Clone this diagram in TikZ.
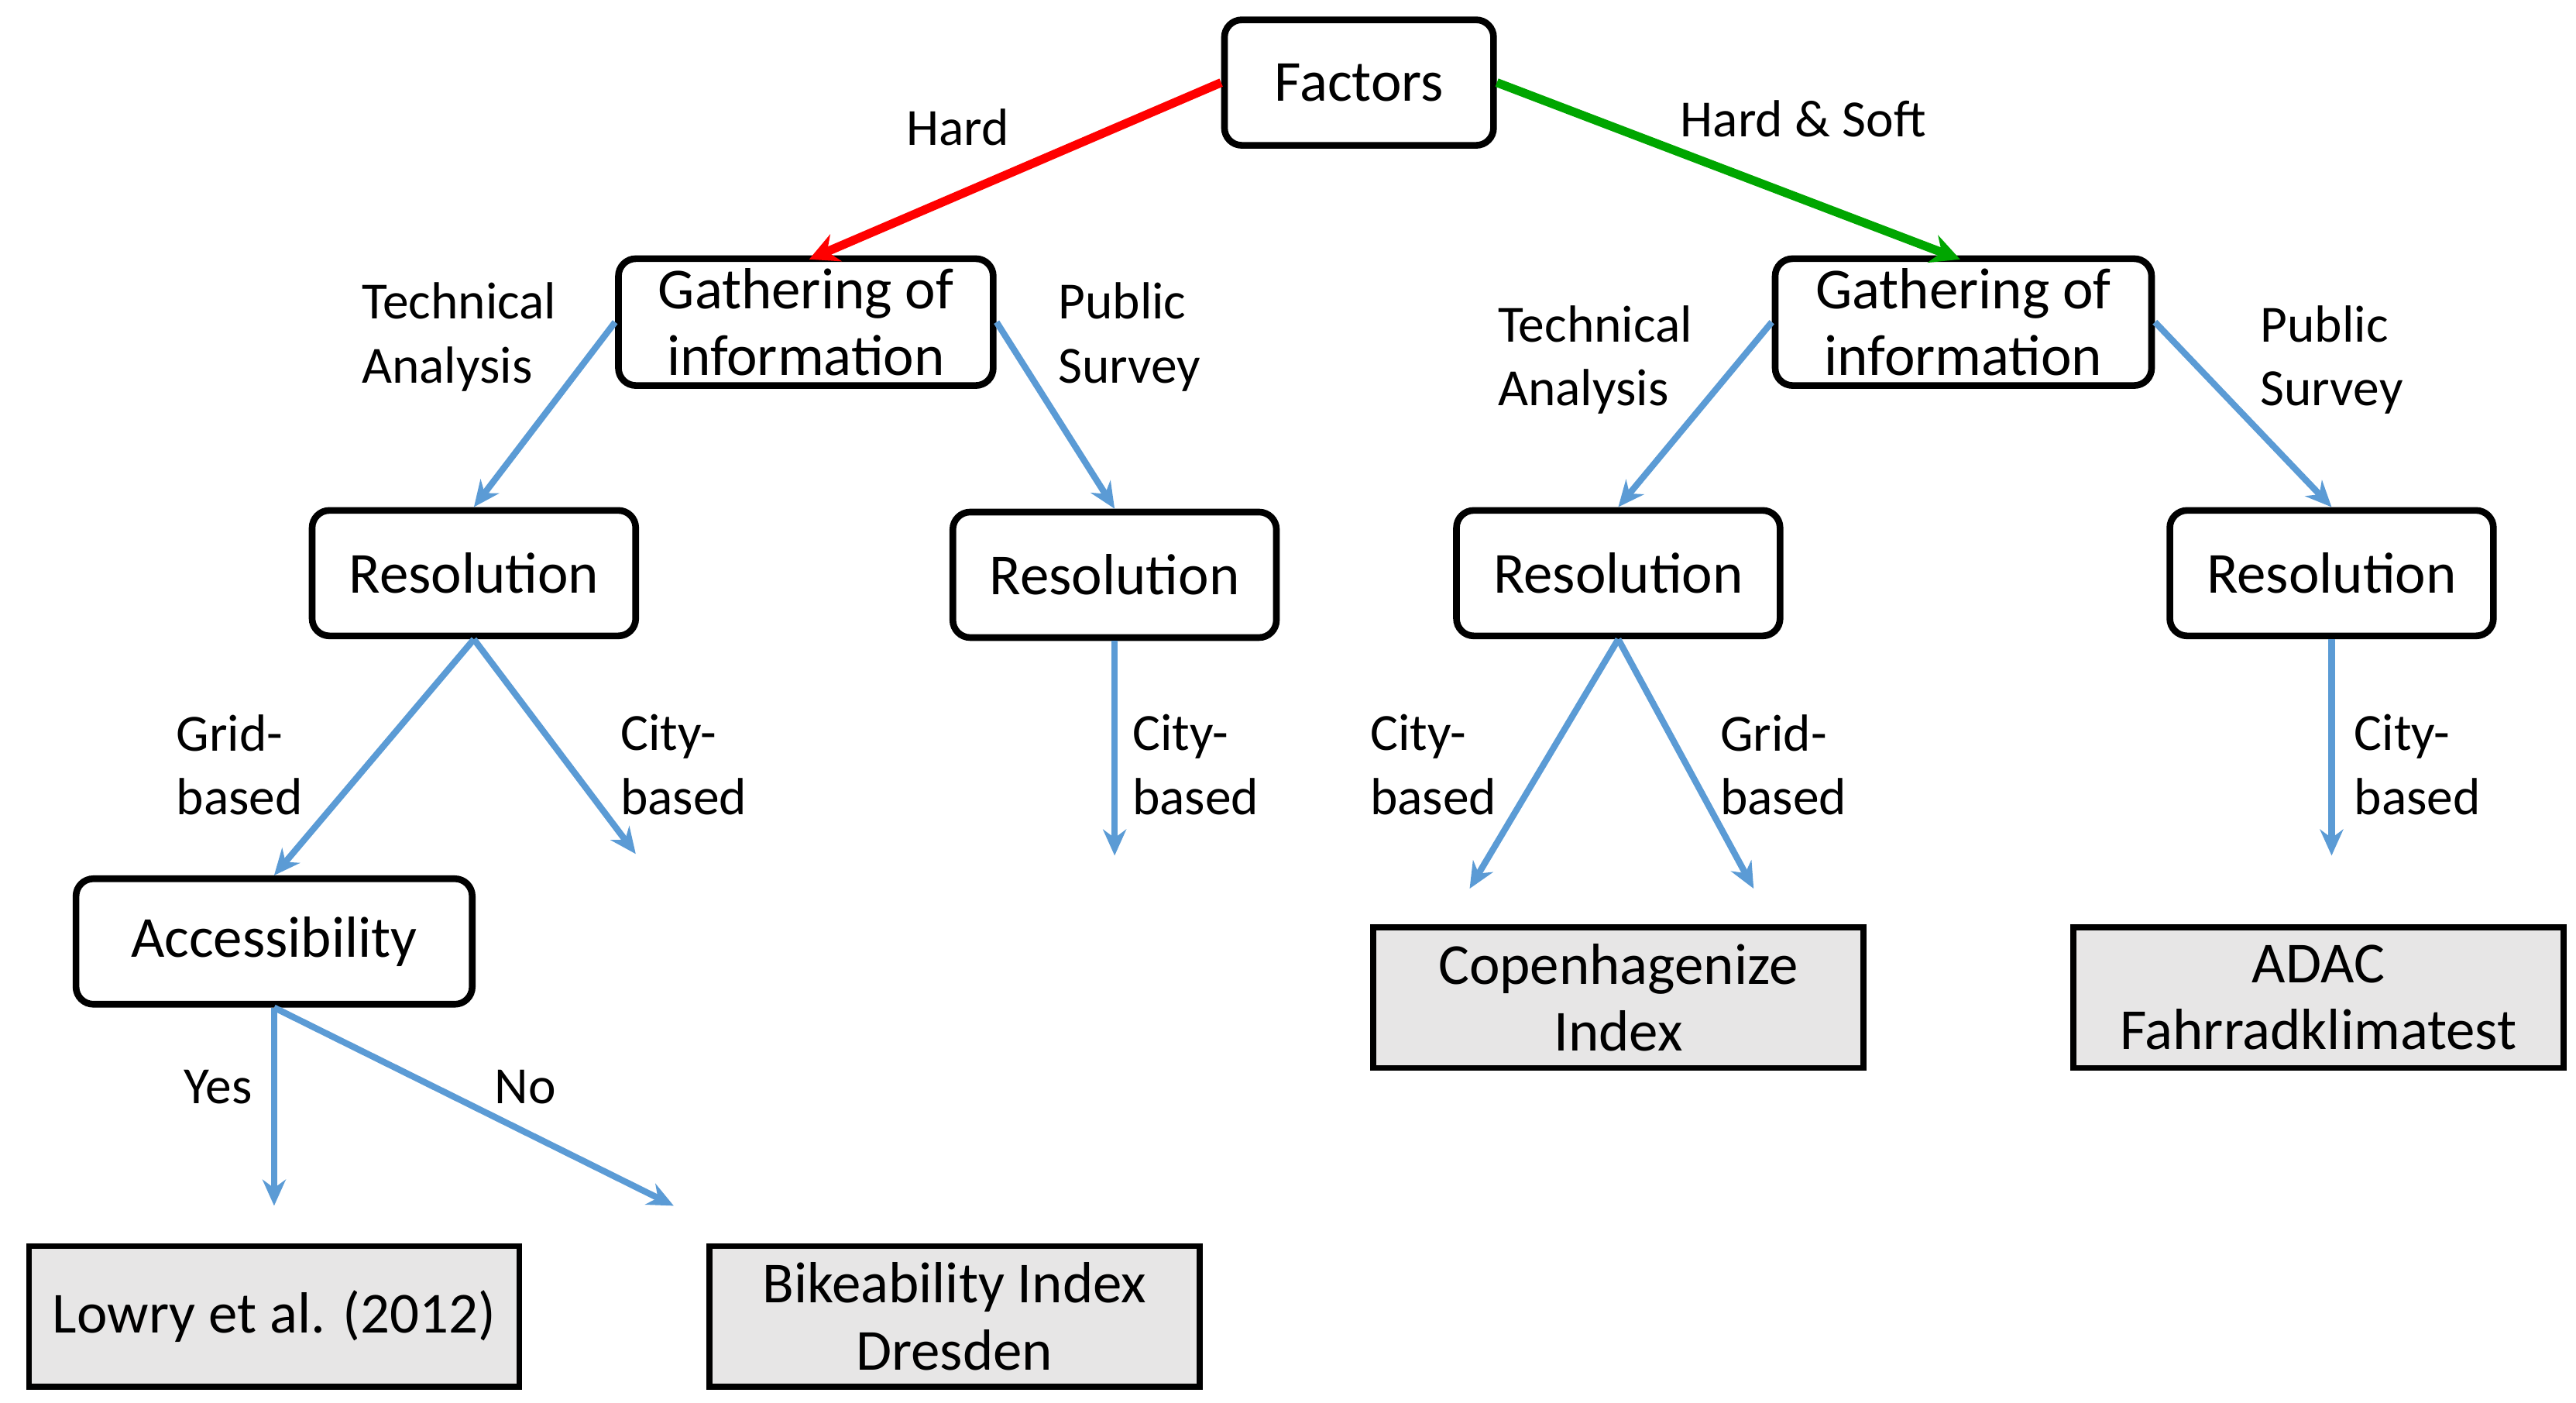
\documentclass[tikz,border=0pt]{standalone}
\usepackage{fontspec}
\setmainfont{Carlito}
\usetikzlibrary{arrows.meta,positioning}

\definecolor{arrowblue}{RGB}{91,155,213}
\definecolor{boxgray}{RGB}{231,230,230}

\tikzset{
    stage/.style={draw, line width=2.3pt, rounded corners=6pt, font=\fontsize{20}{23}\selectfont, align=center, minimum height=1.52cm},
    leaf/.style={draw, line width=2pt, fill=boxgray, font=\fontsize{20}{23}\selectfont, align=center, minimum width=5.94cm, minimum height=1.7cm},
    link/.style={-{Stealth[length=9pt,width=8pt]}, line width=2.2pt, arrowblue},
    lbl/.style={font=\fontsize{18}{22}\selectfont, align=left},
}

\begin{document}
\begin{tikzpicture}[x=0.02cm,y=-0.02cm]
        \useasboundingbox (0,0) rectangle (1560,849);

        % boxes of the tree
        \node[stage, minimum width=3.26cm] (factors) at (823,50) {Factors};
        \node[stage, minimum width=4.54cm] (gathL) at (488,195) {Gathering of\\information};
        \node[stage, minimum width=4.56cm] (gathR) at (1189,195) {Gathering of\\information};
        \node[stage, minimum width=3.92cm] (res1) at (287,347) {Resolution};
        \node[stage, minimum width=3.92cm] (res2) at (675,348) {Resolution};
        \node[stage, minimum width=3.92cm] (res3) at (980,347) {Resolution};
        \node[stage, minimum width=3.92cm] (res4) at (1412,347) {Resolution};
        \node[stage, minimum width=4.8cm] (access) at (166,570) {Accessibility};

        % results
        \node[leaf] (copen) at (980,604) {Copenhagenize\\Index};
        \node[leaf] (adac) at (1404,604) {ADAC\\Fahrradklimatest};
        \node[leaf] (lowry) at (166,797) {Lowry et al. (2012)};
        \node[leaf] (bike) at (578,797) {Bikeability Index\\Dresden};

        % open arrow ends
        \coordinate (endR1) at (385,517);
        \coordinate (endR2) at (675,518);
        \coordinate (endR4) at (1412,518);
        \coordinate (endC) at (890,538);
        \coordinate (endG) at (1062,538);
        \coordinate (endYes) at (166,730);
        \coordinate (endNo) at (408,730);
        \coordinate (topL) at (490,157);
        \coordinate (topR) at (1187,157);

        % top arrows
        \draw[-{Stealth[length=10pt,width=10pt]}, line width=3pt, red] (factors.west) -- (topL);
        \draw[-{Stealth[length=10pt,width=10pt]}, line width=3pt, green!65!black] (factors.east) -- (topR);
        \node[lbl] at (580,77) {Hard};
        \node[lbl] at (1092,72) {Hard \& Soft};

        % blue arrows
        \draw[link] (gathL.west) -- (res1.north);
        \draw[link] (gathL.east) -- (res2.north);
        \draw[link] (gathR.west) -- (res3.north);
        \draw[link] (gathR.east) -- (res4.north);
        \draw[link] (res1.south) -- (access.north);
        \draw[link] (res1.south) -- (endR1);
        \draw[link] (res2.south) -- (endR2);
        \draw[link] (res3.south) -- (endC);
        \draw[link] (res3.south) -- (endG);
        \draw[link] (res4.south) -- (endR4);
        \draw[link] (access.south) -- (endYes);
        \draw[link] (access.south) -- (endNo);

        % labels
        \node[lbl] at (278,204) {Technical\\Analysis};
        \node[lbl] at (684,204) {Public\\Survey};
        \node[lbl] at (966,218) {Technical\\Analysis};
        \node[lbl] at (1412,218) {Public\\Survey};
        \node[lbl] at (145,463) {Grid-\\based};
        \node[lbl] at (414,463) {City-\\based};
        \node[lbl] at (724,463) {City-\\based};
        \node[lbl] at (868,463) {City-\\based};
        \node[lbl] at (1080,463) {Grid-\\based};
        \node[lbl] at (1464,463) {City-\\based};
        \node[lbl] at (132,658) {Yes};
        \node[lbl] at (318,658) {No};
\end{tikzpicture}
\end{document}
